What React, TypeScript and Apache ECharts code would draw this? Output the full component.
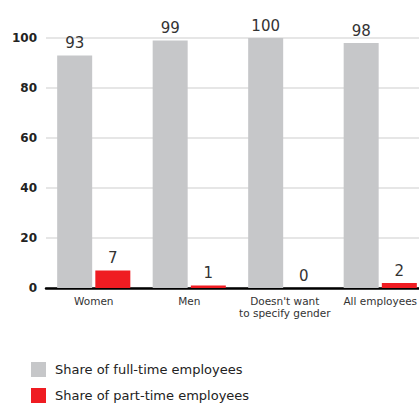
import React, { useEffect, useRef } from "react";
import * as echarts from "echarts";

const categories = ["Women", "Men", "Doesn't want\nto specify gender", "All employees"];
const fullTime = [93, 99, 100, 98];
const partTime = [7, 1, 0, 2];
const yTicks = [0, 20, 40, 60, 80, 100];
const seriesNames = ["Share of full-time employees", "Share of part-time employees"];

const FONT = "DejaVu Sans";

export default function App() {
  const ref = useRef<HTMLDivElement>(null);
  useEffect(() => {
    if (!ref.current) return;
    const chart = echarts.init(ref.current, undefined, { renderer: "svg" });
    const legendBase = {
      orient: "vertical",
      left: 31,
      padding: 0,
      itemWidth: 15,
      itemHeight: 15,
      icon: "rect",
      textStyle: { fontSize: 13, color: "#222", fontFamily: FONT, padding: [0, 0, 0, 4] },
    };
    chart.setOption({
      animation: false,
      textStyle: { fontFamily: FONT },
      grid: { left: 46, right: 0, top: 38, bottom: 404 - 288 },
      legend: [
        { ...legendBase, top: 362, data: [seriesNames[0]] },
        { ...legendBase, top: 388, data: [seriesNames[1]] },
      ],
      xAxis: {
        type: "category",
        data: categories,
        axisLine: { lineStyle: { color: "#000", width: 2.5 } },
        axisTick: { show: false },
        axisLabel: { fontSize: 10.5, color: "#333", lineHeight: 12, margin: 7, interval: 0, fontFamily: FONT },
      },
      yAxis: {
        type: "value",
        min: yTicks[0],
        max: yTicks[yTicks.length - 1],
        interval: 20,
        axisLine: { show: false },
        axisTick: { show: false },
        splitLine: { lineStyle: { color: "#dedede", width: 1.5 } },
        axisLabel: { fontSize: 12, fontWeight: "bold", color: "#222", margin: 9, fontFamily: FONT },
      },
      series: [
        {
          name: seriesNames[0],
          type: "bar",
          data: fullTime,
          barWidth: 35,
          barGap: "9%",
          itemStyle: { color: "#c6c7c9" },
          label: { show: true, position: "top", fontSize: 15, color: "#333", distance: 5, fontFamily: FONT },
        },
        {
          name: seriesNames[1],
          type: "bar",
          data: partTime,
          barWidth: 35,
          barGap: "9%",
          itemStyle: { color: "#ef1c22" },
          label: { show: true, position: "top", fontSize: 15, color: "#333", distance: 5, fontFamily: FONT },
        },
      ],
    });
    return () => chart.dispose();
  }, []);
  return (
    <div style={{ position: "fixed", left: 0, top: 0, width: 419, height: 404, overflow: "hidden", background: "#fff" }}>
      <div ref={ref} style={{ width: 428, height: 404 }} />
    </div>
  );
}
